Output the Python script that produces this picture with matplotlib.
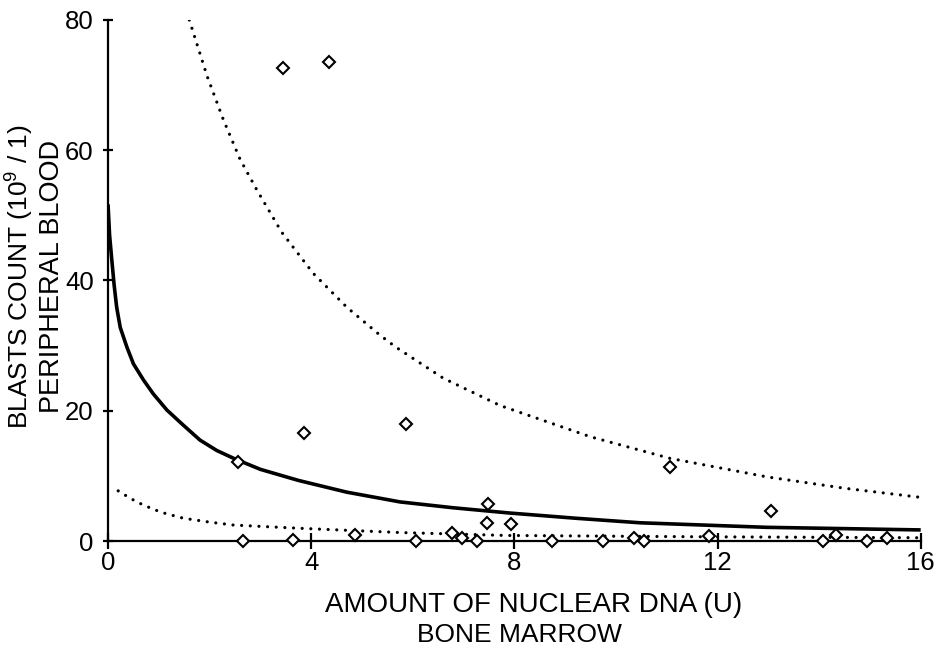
import matplotlib
matplotlib.use("Agg")
import matplotlib.pyplot as plt

plt.rcParams['font.family'] = ['Liberation Sans', 'DejaVu Sans']
plt.rcParams['mathtext.default'] = 'regular'

# measured points (DNA amount, blasts count)
dna = [2.55, 3.86, 5.87, 2.66, 3.65, 4.86, 6.06, 6.77, 6.96, 7.26, 7.49, 7.47,
       7.93, 8.75, 9.74, 10.36, 10.55, 11.06, 11.84, 13.05, 14.08, 14.34, 14.95,
       15.33, 3.44, 4.36]
blasts = [12.1, 16.6, 17.9, 0.0, 0.1, 0.9, 0.0, 1.2, 0.5, 0.0, 5.7, 2.7,
          2.55, 0.0, 0.0, 0.5, 0.0, 11.3, 0.7, 4.6, 0.0, 0.9, 0.0,
          0.5, 72.7, 73.6]

# fitted curve
fit_x = [0.0, 0.03, 0.07, 0.12, 0.17, 0.24, 0.37, 0.5, 0.70, 0.89, 1.16, 1.48,
         1.81, 2.14, 2.5, 3.0, 3.75, 4.7, 5.75, 6.8, 7.9, 9.2, 10.47, 12.97,
         14.5, 16.0]
fit_y = [51.7, 47.0, 43.5, 39.3, 35.9, 32.8, 29.8, 27.2, 24.7, 22.6, 20.1, 17.8,
         15.5, 13.9, 12.6, 11.0, 9.3, 7.5, 6.0, 5.1, 4.3, 3.5, 2.8, 2.1,
         1.9, 1.7]

# upper confidence band
up_x = [1.6, 1.95, 2.27, 2.6, 2.93, 3.42, 4.04, 4.7, 5.34, 5.66, 6.6, 7.72,
        9.5, 11.06, 12.97, 14.5, 16.0]
up_y = [80.0, 71.4, 64.7, 58.6, 53.9, 47.4, 41.1, 35.9, 31.7, 29.8, 25.0, 20.8,
        16.0, 12.7, 9.85, 8.1, 6.7]

# lower confidence band
lo_x = [0.2, 0.45, 0.70, 1.05, 1.48, 2.0, 2.47, 3.78, 5.75, 7.85, 11.65, 16.0]
lo_y = [7.7, 6.5, 5.5, 4.4, 3.5, 2.9, 2.45, 1.95, 1.3, 0.85, 0.65, 0.5]

fig = plt.figure(figsize=(9.37, 6.49), dpi=100)
ax = fig.add_axes([0.1153, 0.1664, 0.8673, 0.8028])

ax.plot(fit_x, fit_y, color='black', lw=2.6, solid_capstyle='butt',
        solid_joinstyle='round')
ax.plot(up_x, up_y, color='black', lw=2.3, linestyle=(0, (0.01, 2.7)),
        dash_capstyle='round')
ax.plot(lo_x, lo_y, color='black', lw=2.3, linestyle=(0, (0.01, 2.7)),
        dash_capstyle='round')
ax.plot(dna, blasts, linestyle='none', marker='D', markersize=6.5,
        markerfacecolor='white', markeredgecolor='black', markeredgewidth=1.5,
        clip_on=False, zorder=5)

ax.set_xlim(0, 16)
ax.set_ylim(0, 80)
ax.set_xticks([0, 4, 8, 12, 16])
ax.set_yticks([0, 20, 40, 60, 80])

for s in ['top', 'right']:
    ax.spines[s].set_visible(False)
for s in ['left', 'bottom']:
    ax.spines[s].set_linewidth(1.6)

ax.tick_params(axis='both', direction='inout', width=1.6, labelsize=18.5)
ax.tick_params(axis='x', length=11.5, pad=1.5)
ax.tick_params(axis='y', length=7.5, pad=6.5)

# axis titles, two lines each
fig.text(0.569, 0.057, 'AMOUNT OF NUCLEAR DNA (U)', fontsize=20,
         ha='center', va='baseline')
fig.text(0.554, 0.0108, 'BONE MARROW', fontsize=19,
         ha='center', va='baseline')
fig.text(0.0300, 0.574, 'BLASTS COUNT (10$^{9}$ / 1)', fontsize=19,
         rotation=90, rotation_mode='anchor', ha='center', va='baseline')
fig.text(0.0630, 0.574, 'PERIPHERAL BLOOD', fontsize=19.5,
         rotation=90, rotation_mode='anchor', ha='center', va='baseline')

fig.savefig('out.png', dpi=100)
